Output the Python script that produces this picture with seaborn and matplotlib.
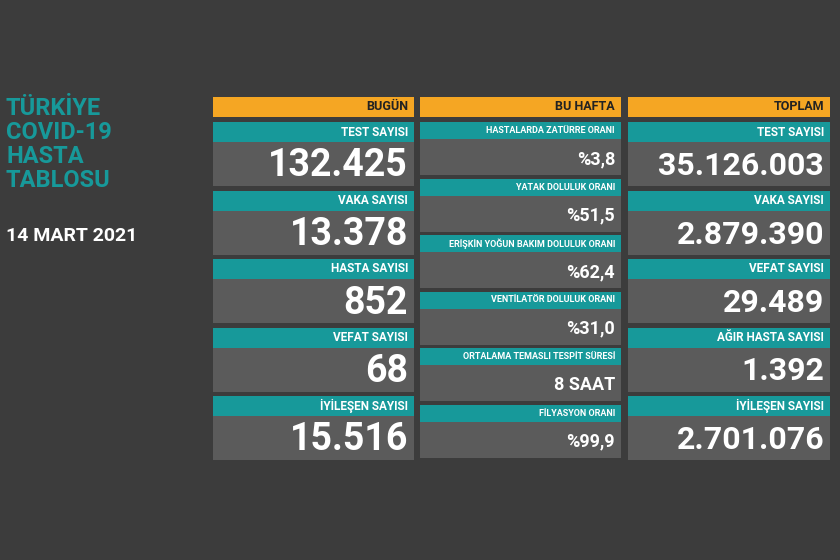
import matplotlib
matplotlib.use("Agg")
import matplotlib.pyplot as plt
from matplotlib.patches import Rectangle
import seaborn as sns

headers = ["BUGÜN", "BU HAFTA", "TOPLAM"]
today_labels = ["TEST SAYISI", "VAKA SAYISI", "HASTA SAYISI", "VEFAT SAYISI", "İYİLEŞEN SAYISI"]
today_values = ["132.425", "13.378", "852", "68", "15.516"]
week_labels = ["HASTALARDA ZATÜRRE ORANI", "YATAK DOLULUK ORANI",
               "ERİŞKİN YOĞUN BAKIM DOLULUK ORANI", "VENTİLATÖR DOLULUK ORANI",
               "ORTALAMA TEMASLI TESPİT SÜRESİ", "FİLYASYON ORANI"]
week_values = ["%3,8", "%51,5", "%62,4", "%31,0", "8 SAAT", "%99,9"]
total_labels = ["TEST SAYISI", "VAKA SAYISI", "VEFAT SAYISI", "AĞIR HASTA SAYISI", "İYİLEŞEN SAYISI"]
total_values = ["35.126.003", "2.879.390", "29.489", "1.392", "2.701.076"]

BG = "#3c3c3c"
ORANGE = "#f5a623"
TEAL = "#17999a"
BOX = "#5b5b5b"

sns.set_theme(style="white", rc={"axes.facecolor": BG, "figure.facecolor": BG})
plt.rcParams["font.family"] = ["Liberation Sans Narrow", "Roboto", "DejaVu Sans"]

fig = plt.figure(figsize=(8.4, 5.6), dpi=100)
ax = fig.add_axes([0, 0, 1, 1])
ax.set_xlim(0, 840)
ax.set_ylim(560, 0)
ax.axis("off")

# title block
ax.text(6, 97, "TÜRKİYE\nCOVID-19\nHASTA\nTABLOSU", color=TEAL, fontsize=17,
        fontweight="bold", va="top", ha="left", linespacing=1.05)
ax.text(6, 236, "14 MART 2021", color="white", fontsize=14, fontweight="bold",
        va="center", ha="left")

cols = [(213, 414), (420, 621), (628, 830)]
for (x0, x1), h in zip(cols, headers):
    ax.add_patch(Rectangle((x0, 97), x1 - x0, 20, color=ORANGE, lw=0))
    ax.text(x1 - 6, 107, h, color="#222222", fontsize=9, fontweight="bold",
            ha="right", va="center")


def draw_column(x0, x1, labels, values, top, pitch, lab_h, box_h, lab_fs, val_fs):
    for i, (lab, val) in enumerate(zip(labels, values)):
        y = top + i * pitch
        ax.add_patch(Rectangle((x0, y), x1 - x0, lab_h, color=TEAL, lw=0))
        ax.text(x1 - 6, y + lab_h / 2, lab, color="white", fontsize=lab_fs,
                fontweight="bold", ha="right", va="center")
        ax.add_patch(Rectangle((x0, y + lab_h), x1 - x0, box_h, color=BOX, lw=0))
        ax.text(x1 - 6, y + lab_h + box_h / 2 + 2, val, color="white",
                fontsize=val_fs, fontweight="bold", ha="right", va="center")


draw_column(*cols[0], today_labels, today_values, 122, 68.5, 20, 44, 8.5, 27)
draw_column(*cols[1], week_labels, week_values, 122, 56.5, 17, 36, 6.5, 13)
draw_column(*cols[2], total_labels, total_values, 122, 68.5, 20, 44, 8.5, 23)

fig.savefig("out.png", dpi=100, facecolor=BG)
